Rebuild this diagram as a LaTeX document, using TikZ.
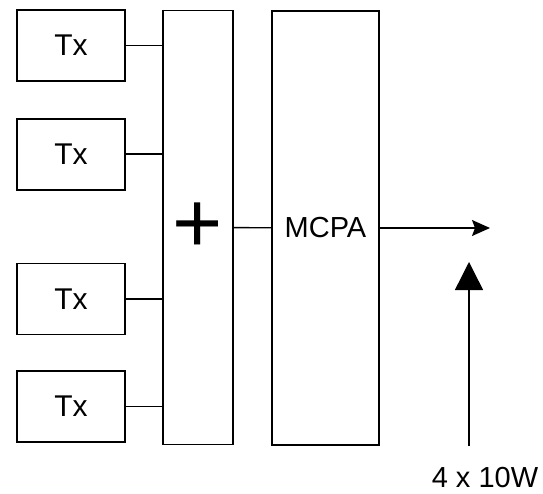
\documentclass[tikz,border=0pt]{standalone}
\usepackage{fontspec}
\setmainfont{Liberation Sans}
\usetikzlibrary{positioning,arrows.meta}

\begin{document}
\begin{tikzpicture}[
    x=1pt, y=1pt,
    node distance=36pt and 36pt,
    txbox/.style={draw, rectangle, line width=1.7pt, minimum width=108pt, minimum height=71pt, inner sep=0pt, font=\fontsize{30}{32}\selectfont},
    tallbox/.style={draw, rectangle, line width=1.7pt, minimum height=434pt, inner sep=0pt, font=\fontsize{29}{31}\selectfont},
    wire/.style={line width=1.4pt},
    flowarrow/.style={line width=1.4pt, -{Stealth[length=18pt,width=16pt,inset=3pt]}},
    powarrow/.style={line width=1.4pt, -{Triangle[length=28pt,width=28pt]}}
]
  \useasboundingbox (0,0) rectangle (543,-494);
  % Nodes
  \node (tx1) [txbox] at (71,-45.5) {Tx};
  \node (tx2) [txbox, below=of tx1] {Tx};
  \node (tx3) [txbox, below=72pt of tx2] {Tx};
  \node (tx4) [txbox, below=35pt of tx3] {Tx};

  \node (sum) [tallbox, minimum width=70pt, font=\fontsize{86}{86}\selectfont] at (198,-227.5) {+};
  \node (mcpa) [tallbox, minimum width=107pt] at (325.5,-228) {MCPA};

  \coordinate (out) at (490,-228);
  \coordinate (pwrbot) at (469,-446);
  \coordinate (pwrtop) at (469,-262);
  \node (pwr) [font=\fontsize{29}{31}\selectfont] at (485,-478) {4 x 10W};

  % Connectors
  \draw [wire] (tx1) -- (tx1 -| sum.west);
  \draw [wire] (tx2) -- (tx2 -| sum.west);
  \draw [wire] (tx3) -- (tx3 -| sum.west);
  \draw [wire] (tx4) -- (tx4 -| sum.west);
  \draw [wire] (sum) -- (mcpa);
  \draw [flowarrow] (mcpa) -- (out);
  \draw [powarrow] (pwrbot) -- (pwrtop);
\end{tikzpicture}
\end{document}
